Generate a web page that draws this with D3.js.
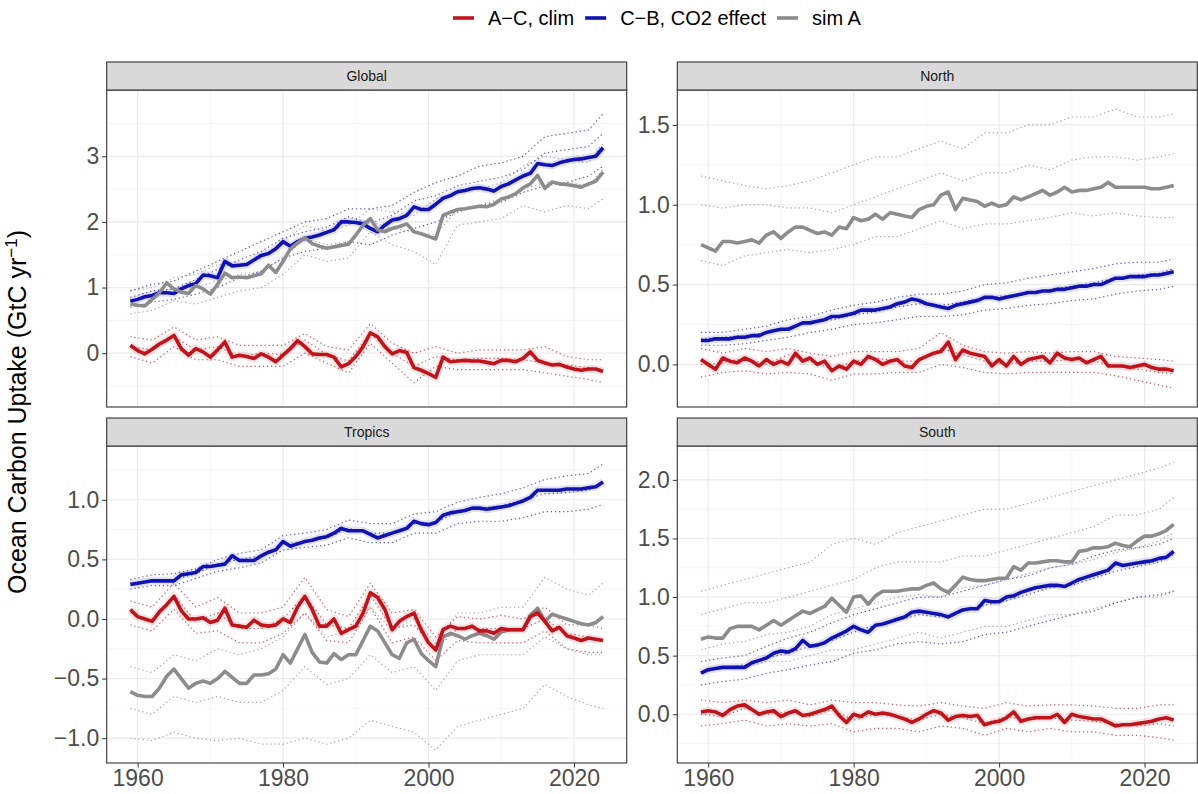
<!DOCTYPE html>
<html>
<head>
<meta charset="utf-8">
<script src="https://cdn.jsdelivr.net/npm/d3@7.9.0/dist/d3.min.js"></script>
<style>
  body { margin: 0; background: #fff; }
  svg { font-family: "Liberation Sans", Arial, sans-serif; }
</style>
</head>
<body>
<svg id="chart" width="1198" height="794"></svg>
<script>
// ---- data ----
const years = [
  1959, 1960, 1961, 1962, 1963, 1964, 1965, 1966, 1967, 1968,
  1969, 1970, 1971, 1972, 1973, 1974, 1975, 1976, 1977, 1978,
  1979, 1980, 1981, 1982, 1983, 1984, 1985, 1986, 1987, 1988,
  1989, 1990, 1991, 1992, 1993, 1994, 1995, 1996, 1997, 1998,
  1999, 2000, 2001, 2002, 2003, 2004, 2005, 2006, 2007, 2008,
  2009, 2010, 2011, 2012, 2013, 2014, 2015, 2016, 2017, 2018,
  2019, 2020, 2021, 2022, 2023, 2024
];
// ensemble members are read every third year
const memberYears = [1959, 1962, 1965, 1968, 1971, 1974, 1977, 1980, 1983, 1986, 1989, 1992,
  1995, 1998, 2001, 2004, 2007, 2010, 2013, 2016, 2019, 2022, 2024];

const seriesNames = ['A−C, clim', 'C−B, CO2 effect', 'sim A'];
const regionNames = ['Global', 'North', 'Tropics', 'South'];
const xTicks = [1960, 1980, 2000, 2020];
const globalTicks = [0, 1, 2, 3];
const northTicks = [0, 0.5, 1, 1.5];
const tropicsTicks = [-1, -0.5, 0, 0.5, 1];
const southTicks = [0, 0.5, 1, 1.5, 2];

// Global
const globalClim = [
  0.12, 0.04, -0.01, 0.06, 0.14, 0.20, 0.27, 0.07, -0.03, 0.07,
  0.02, -0.06, 0.05, 0.17, -0.06, -0.03, -0.05, -0.08, -0.01, -0.06,
  -0.13, -0.03, 0.07, 0.19, 0.10, -0.01, -0.02, -0.02, -0.06, -0.21,
  -0.16, -0.05, 0.10, 0.31, 0.25, 0.10, -0.01, 0.04, 0.01, -0.22,
  -0.26, -0.31, -0.37, -0.06, -0.13, -0.12, -0.11, -0.12, -0.12, -0.14,
  -0.16, -0.11, -0.11, -0.13, -0.08, 0.02, -0.11, -0.15, -0.18, -0.17,
  -0.21, -0.24, -0.26, -0.24, -0.24, -0.28
];
const globalCO2 = [
  0.79, 0.82, 0.86, 0.88, 0.92, 0.92, 0.91, 0.98, 1.03, 1.06,
  1.19, 1.18, 1.15, 1.40, 1.33, 1.34, 1.35, 1.42, 1.49, 1.52,
  1.59, 1.70, 1.63, 1.70, 1.75, 1.77, 1.80, 1.84, 1.88, 2.00,
  2.00, 1.99, 1.97, 1.90, 1.85, 1.95, 2.03, 2.05, 2.10, 2.23,
  2.19, 2.19, 2.27, 2.36, 2.40, 2.46, 2.48, 2.51, 2.52, 2.50,
  2.47, 2.54, 2.58, 2.64, 2.70, 2.74, 2.89, 2.87, 2.86, 2.90,
  2.93, 2.95, 2.96, 2.98, 3.00, 3.13
];
const globalSimA = [
  0.75, 0.73, 0.72, 0.82, 0.92, 1.07, 0.98, 0.93, 0.91, 1.03,
  0.98, 0.90, 1.05, 1.22, 1.15, 1.16, 1.15, 1.18, 1.21, 1.34,
  1.23, 1.40, 1.59, 1.68, 1.76, 1.67, 1.63, 1.60, 1.62, 1.64,
  1.66, 1.80, 1.95, 2.05, 1.88, 1.85, 1.90, 1.93, 1.97, 1.85,
  1.82, 1.78, 1.74, 2.10, 2.15, 2.19, 2.20, 2.22, 2.24, 2.23,
  2.27, 2.35, 2.38, 2.43, 2.52, 2.58, 2.71, 2.51, 2.61, 2.58,
  2.57, 2.55, 2.53, 2.58, 2.62, 2.76
];
const globalClimMembers = [
  [0.25, 0.2, 0.4, 0.2, 0.25, 0.12, 0.12, 0.12, 0.3, 0.1, 0.05, 0.45, 0.15, 0.0, 0.1, 0.0, 0.05, 0.05, 0.05, 0.1, -0.05, -0.1, -0.1],
  [0.1, 0.05, 0.25, 0.05, 0.1, -0.05, 0.0, -0.02, 0.2, -0.02, -0.12, 0.3, 0.0, -0.2, -0.05, -0.1, -0.08, -0.08, -0.1, -0.15, -0.18, -0.22, -0.25],
  [-0.05, -0.15, 0.1, -0.1, -0.1, -0.2, -0.2, -0.2, 0.0, -0.15, -0.3, 0.15, -0.15, -0.45, -0.2, -0.25, -0.25, -0.25, -0.25, -0.3, -0.35, -0.4, -0.45]
];
const globalCO2Members = [
  [0.95, 1.05, 1.1, 1.25, 1.4, 1.55, 1.7, 1.85, 2.0, 2.05, 2.2, 2.2, 2.25, 2.45, 2.6, 2.7, 2.85, 2.9, 3.0, 3.3, 3.35, 3.4, 3.65],
  [0.85, 0.95, 0.98, 1.12, 1.28, 1.42, 1.55, 1.75, 1.85, 1.92, 2.08, 1.98, 2.1, 2.32, 2.4, 2.55, 2.62, 2.68, 2.8, 3.05, 3.1, 3.15, 3.35],
  [0.7, 0.78, 0.82, 0.9, 1.0, 1.15, 1.25, 1.45, 1.55, 1.6, 1.7, 1.65, 1.8, 1.9, 2.0, 2.15, 2.25, 2.3, 2.45, 2.55, 2.6, 2.7, 2.85]
];
const globalSimAMembers = [
  [0.95, 1.0, 1.15, 1.2, 1.35, 1.35, 1.45, 1.7, 1.95, 1.85, 1.95, 2.2, 2.15, 2.1, 2.35, 2.45, 2.5, 2.6, 2.85, 3.0, 2.95, 2.9, 3.2],
  [0.8, 0.85, 1.0, 1.0, 1.1, 1.2, 1.25, 1.45, 1.75, 1.65, 1.7, 2.0, 1.9, 1.85, 1.8, 2.2, 2.25, 2.35, 2.5, 2.6, 2.6, 2.55, 2.8],
  [0.6, 0.65, 0.8, 0.75, 0.85, 0.95, 1.0, 1.2, 1.5, 1.4, 1.45, 1.85, 1.65, 1.55, 1.35, 1.95, 2.0, 2.05, 2.25, 2.15, 2.25, 2.2, 2.35]
];

// North
const northClim = [
  0.03, 0.00, -0.03, 0.04, 0.02, 0.01, 0.04, 0.02, -0.01, 0.03,
  0.00, 0.02, 0.00, 0.07, 0.02, 0.04, 0.00, 0.02, -0.04, -0.01,
  -0.03, 0.02, 0.00, 0.05, 0.03, 0.00, 0.02, 0.03, -0.01, -0.02,
  0.03, 0.05, 0.07, 0.08, 0.14, 0.03, 0.09, 0.07, 0.06, 0.05,
  -0.01, 0.03, -0.01, 0.05, 0.00, 0.03, 0.04, 0.05, 0.01, 0.07,
  0.04, 0.03, 0.04, 0.01, 0.03, 0.05, -0.01, -0.01, -0.01, -0.02,
  -0.01, 0.00, -0.02, -0.03, -0.03, -0.04
];
const northCO2 = [
  0.15, 0.15, 0.16, 0.16, 0.16, 0.17, 0.17, 0.18, 0.18, 0.20,
  0.21, 0.22, 0.22, 0.24, 0.26, 0.26, 0.27, 0.28, 0.30, 0.30,
  0.31, 0.32, 0.34, 0.34, 0.34, 0.35, 0.36, 0.38, 0.39, 0.41,
  0.40, 0.38, 0.37, 0.36, 0.35, 0.37, 0.38, 0.39, 0.40, 0.42,
  0.42, 0.41, 0.42, 0.43, 0.44, 0.45, 0.45, 0.46, 0.46, 0.47,
  0.47, 0.48, 0.49, 0.49, 0.50, 0.50, 0.52, 0.54, 0.54, 0.55,
  0.55, 0.55, 0.56, 0.56, 0.57, 0.58
];
const northSimA = [
  0.75, 0.73, 0.71, 0.77, 0.77, 0.76, 0.77, 0.78, 0.76, 0.81,
  0.83, 0.79, 0.83, 0.86, 0.86, 0.84, 0.82, 0.83, 0.81, 0.86,
  0.85, 0.92, 0.90, 0.91, 0.94, 0.91, 0.95, 0.94, 0.93, 0.92,
  0.97, 0.99, 1.00, 1.06, 1.08, 0.97, 1.04, 1.03, 1.02, 0.99,
  1.01, 0.99, 1.00, 1.05, 1.03, 1.05, 1.07, 1.09, 1.06, 1.08,
  1.11, 1.08, 1.09, 1.09, 1.10, 1.11, 1.14, 1.11, 1.11, 1.11,
  1.11, 1.11, 1.10, 1.10, 1.11, 1.12
];
const northClimMembers = [
  [0.1, 0.07, 0.1, 0.08, 0.1, 0.07, 0.05, 0.08, 0.08, 0.08, 0.1, 0.2, 0.12, 0.08, 0.07, 0.08, 0.07, 0.08, 0.08, 0.05, 0.04, 0.03, 0.02],
  [0.0, 0.01, 0.04, 0.0, 0.06, 0.02, -0.03, 0.02, 0.04, 0.02, 0.02, 0.1, 0.06, 0.02, 0.0, 0.02, 0.02, 0.03, 0.02, -0.01, -0.03, -0.05, -0.06],
  [-0.08, -0.05, -0.04, -0.06, -0.05, -0.06, -0.1, -0.06, -0.06, -0.05, -0.05, 0.0, -0.02, -0.05, -0.06, -0.05, -0.05, -0.05, -0.05, -0.07, -0.1, -0.13, -0.15]
];
const northCO2Members = [
  [0.2, 0.2, 0.22, 0.24, 0.28, 0.3, 0.34, 0.37, 0.39, 0.42, 0.44, 0.44, 0.46, 0.5, 0.51, 0.54, 0.56, 0.58, 0.6, 0.63, 0.64, 0.64, 0.66],
  [0.16, 0.17, 0.18, 0.2, 0.23, 0.26, 0.28, 0.31, 0.33, 0.36, 0.38, 0.37, 0.39, 0.42, 0.43, 0.45, 0.47, 0.49, 0.51, 0.54, 0.56, 0.57, 0.6],
  [0.12, 0.12, 0.13, 0.15, 0.17, 0.2, 0.22, 0.25, 0.26, 0.28, 0.3, 0.3, 0.31, 0.34, 0.35, 0.37, 0.38, 0.4, 0.41, 0.44, 0.46, 0.47, 0.49]
];
const northSimAMembers = [
  [1.18, 1.15, 1.12, 1.1, 1.12, 1.15, 1.2, 1.25, 1.3, 1.3, 1.35, 1.4, 1.35, 1.45, 1.45, 1.5, 1.5, 1.55, 1.55, 1.6, 1.55, 1.55, 1.57],
  [1.0, 0.98, 1.0, 1.0, 0.98, 0.98, 0.95, 1.0, 1.05, 1.1, 1.15, 1.2, 1.15, 1.2, 1.2, 1.25, 1.22, 1.28, 1.3, 1.3, 1.28, 1.3, 1.32],
  [0.65, 0.62, 0.68, 0.7, 0.72, 0.7, 0.72, 0.75, 0.8, 0.8, 0.85, 0.9, 0.85, 0.88, 0.88, 0.9, 0.92, 0.95, 0.93, 0.95, 0.93, 0.92, 0.92]
];

// Tropics
const tropicsClim = [
  0.08, 0.02, 0.00, -0.02, 0.06, 0.12, 0.19, 0.07, 0.00, 0.00,
  0.01, -0.03, -0.01, 0.09, -0.05, -0.06, -0.07, -0.01, -0.05, -0.06,
  -0.05, 0.00, -0.03, 0.10, 0.19, 0.08, -0.06, -0.06, 0.00, -0.12,
  -0.09, -0.06, 0.05, 0.22, 0.18, 0.08, -0.09, -0.02, 0.02, 0.05,
  -0.09, -0.20, -0.26, -0.09, -0.06, -0.08, -0.08, -0.06, -0.10, -0.10,
  -0.12, -0.08, -0.09, -0.09, -0.09, 0.02, 0.05, -0.02, -0.10, -0.07,
  -0.14, -0.16, -0.18, -0.16, -0.17, -0.18
];
const tropicsCO2 = [
  0.29, 0.30, 0.31, 0.32, 0.32, 0.32, 0.32, 0.37, 0.38, 0.39,
  0.44, 0.44, 0.45, 0.46, 0.53, 0.49, 0.49, 0.49, 0.53, 0.56,
  0.58, 0.65, 0.61, 0.63, 0.65, 0.66, 0.68, 0.69, 0.72, 0.76,
  0.74, 0.74, 0.74, 0.71, 0.68, 0.70, 0.72, 0.74, 0.76, 0.82,
  0.80, 0.79, 0.81, 0.87, 0.89, 0.90, 0.91, 0.93, 0.93, 0.92,
  0.93, 0.94, 0.95, 0.97, 0.99, 1.02, 1.08, 1.08, 1.08, 1.08,
  1.09, 1.09, 1.09, 1.10, 1.11, 1.15
];
const tropicsSimA = [
  -0.61, -0.64, -0.65, -0.65, -0.58, -0.48, -0.42, -0.50, -0.58, -0.54,
  -0.52, -0.54, -0.50, -0.44, -0.49, -0.54, -0.54, -0.47, -0.47, -0.46,
  -0.42, -0.30, -0.37, -0.25, -0.13, -0.28, -0.36, -0.37, -0.29, -0.34,
  -0.30, -0.30, -0.18, -0.06, -0.10, -0.20, -0.30, -0.33, -0.20, -0.17,
  -0.29, -0.35, -0.40, -0.15, -0.12, -0.14, -0.17, -0.14, -0.12, -0.14,
  -0.17, -0.11, -0.09, -0.09, -0.09, 0.03, 0.09, -0.02, 0.04, 0.02,
  0.00, -0.02, -0.04, -0.05, -0.03, 0.02
];
const tropicsClimMembers = [
  [0.15, 0.1, 0.3, 0.1, 0.18, 0.05, 0.05, 0.1, 0.35, 0.08, 0.02, 0.3, 0.05, 0.08, -0.15, 0.02, 0.0, 0.03, 0.0, 0.1, -0.05, -0.05, -0.08],
  [0.05, -0.02, 0.2, -0.02, 0.05, -0.08, -0.08, 0.0, 0.2, -0.05, -0.08, 0.2, -0.08, -0.05, -0.25, -0.08, -0.08, -0.08, -0.08, 0.0, -0.12, -0.15, -0.18],
  [-0.05, -0.1, 0.08, -0.12, -0.1, -0.2, -0.2, -0.12, 0.05, -0.18, -0.2, 0.1, -0.2, -0.15, -0.35, -0.18, -0.2, -0.2, -0.2, -0.1, -0.25, -0.28, -0.28]
];
const tropicsCO2Members = [
  [0.33, 0.37, 0.38, 0.42, 0.5, 0.55, 0.58, 0.7, 0.72, 0.75, 0.83, 0.8, 0.8, 0.88, 0.9, 0.98, 1.02, 1.05, 1.1, 1.17, 1.2, 1.22, 1.3],
  [0.3, 0.33, 0.33, 0.38, 0.46, 0.5, 0.53, 0.63, 0.65, 0.68, 0.76, 0.72, 0.72, 0.8, 0.81, 0.9, 0.93, 0.95, 1.0, 1.05, 1.06, 1.08, 1.14],
  [0.25, 0.28, 0.28, 0.34, 0.4, 0.43, 0.47, 0.58, 0.6, 0.62, 0.68, 0.64, 0.64, 0.72, 0.72, 0.8, 0.82, 0.82, 0.85, 0.9, 0.9, 0.92, 0.96]
];
const tropicsSimAMembers = [
  [-0.4, -0.45, -0.3, -0.35, -0.25, -0.3, -0.25, -0.15, 0.05, -0.15, -0.1, 0.1, -0.1, 0.0, -0.2, 0.05, 0.05, 0.1, 0.1, 0.35, 0.25, 0.2, 0.3],
  [-0.75, -0.8, -0.65, -0.7, -0.65, -0.7, -0.7, -0.6, -0.4, -0.55, -0.5, -0.3, -0.45, -0.4, -0.6, -0.35, -0.3, -0.3, -0.3, -0.15, -0.25, -0.3, -0.3],
  [-1.0, -1.02, -0.95, -1.0, -1.02, -1.0, -1.05, -1.05, -1.0, -1.05, -1.0, -0.85, -0.9, -0.95, -1.1, -0.9, -0.85, -0.8, -0.75, -0.55, -0.65, -0.72, -0.75]
];

// South
const southClim = [
  0.02, 0.03, 0.02, -0.01, 0.04, 0.07, 0.08, 0.04, 0.00, 0.02,
  0.03, -0.02, 0.01, 0.03, -0.01, 0.00, 0.02, 0.04, 0.07, -0.01,
  -0.07, 0.00, -0.02, 0.02, 0.00, 0.01, 0.00, -0.02, -0.04, -0.07,
  -0.04, 0.00, 0.03, 0.01, -0.05, -0.02, -0.01, -0.02, -0.01, -0.09,
  -0.07, -0.06, -0.03, 0.02, -0.06, -0.04, -0.03, -0.03, -0.03, 0.00,
  -0.07, 0.00, -0.02, -0.03, -0.04, -0.04, -0.07, -0.10, -0.09, -0.09,
  -0.08, -0.07, -0.06, -0.04, -0.03, -0.05
];
const southCO2 = [
  0.35, 0.38, 0.39, 0.40, 0.40, 0.40, 0.40, 0.44, 0.46, 0.48,
  0.52, 0.54, 0.53, 0.56, 0.63, 0.58, 0.59, 0.61, 0.65, 0.68,
  0.71, 0.75, 0.72, 0.70, 0.76, 0.77, 0.79, 0.81, 0.83, 0.87,
  0.88, 0.87, 0.86, 0.85, 0.83, 0.86, 0.89, 0.90, 0.90, 0.97,
  0.96, 0.96, 1.00, 1.01, 1.04, 1.06, 1.08, 1.09, 1.10, 1.10,
  1.09, 1.12, 1.15, 1.17, 1.19, 1.21, 1.23, 1.29, 1.27, 1.28,
  1.29, 1.30, 1.31, 1.33, 1.34, 1.39
];
const southSimA = [
  0.64, 0.66, 0.65, 0.65, 0.73, 0.75, 0.75, 0.75, 0.72, 0.76,
  0.80, 0.76, 0.80, 0.84, 0.88, 0.86, 0.89, 0.92, 0.99, 0.93,
  0.87, 1.00, 1.01, 0.94, 1.01, 1.05, 1.05, 1.05, 1.06, 1.07,
  1.07, 1.10, 1.12, 1.07, 1.04, 1.10, 1.17, 1.15, 1.14, 1.14,
  1.15, 1.16, 1.16, 1.26, 1.23, 1.29, 1.29, 1.30, 1.31, 1.31,
  1.30, 1.30, 1.39, 1.40, 1.42, 1.42, 1.43, 1.46, 1.44, 1.43,
  1.48, 1.52, 1.52, 1.54, 1.57, 1.62
];
const southClimMembers = [
  [0.12, 0.1, 0.12, 0.1, 0.12, 0.08, 0.12, 0.1, 0.1, 0.08, 0.07, 0.1, 0.07, 0.05, 0.1, 0.07, 0.08, 0.08, 0.07, 0.05, 0.05, 0.08, 0.08],
  [0.0, -0.02, 0.05, 0.0, 0.02, -0.02, 0.04, -0.05, 0.0, -0.02, -0.05, 0.0, -0.03, -0.08, -0.02, -0.05, -0.03, -0.05, -0.06, -0.08, -0.1, -0.08, -0.1],
  [-0.1, -0.08, -0.05, -0.1, -0.08, -0.1, -0.08, -0.15, -0.12, -0.12, -0.15, -0.1, -0.12, -0.18, -0.12, -0.15, -0.12, -0.15, -0.15, -0.18, -0.18, -0.2, -0.22]
];
const southCO2Members = [
  [0.45, 0.48, 0.5, 0.58, 0.65, 0.7, 0.78, 0.85, 0.9, 0.95, 1.0, 1.0, 1.05, 1.1, 1.15, 1.18, 1.25, 1.28, 1.35, 1.4, 1.42, 1.45, 1.5],
  [0.35, 0.4, 0.42, 0.48, 0.52, 0.58, 0.63, 0.7, 0.76, 0.8, 0.85, 0.83, 0.88, 0.93, 0.97, 1.02, 1.08, 1.1, 1.16, 1.22, 1.26, 1.3, 1.36],
  [0.25, 0.28, 0.3, 0.35, 0.38, 0.42, 0.45, 0.52, 0.55, 0.6, 0.62, 0.6, 0.62, 0.68, 0.7, 0.75, 0.8, 0.85, 0.88, 0.95, 1.0, 1.02, 1.05]
];
const southSimAMembers = [
  [1.05, 1.1, 1.15, 1.2, 1.25, 1.3, 1.45, 1.5, 1.45, 1.55, 1.6, 1.65, 1.7, 1.75, 1.75, 1.8, 1.85, 1.9, 1.95, 2.0, 2.05, 2.1, 2.15],
  [0.85, 0.9, 0.95, 0.95, 1.0, 1.05, 1.1, 1.15, 1.25, 1.3, 1.3, 1.3, 1.35, 1.35, 1.4, 1.45, 1.5, 1.55, 1.6, 1.7, 1.7, 1.75, 1.85],
  [0.55, 0.6, 0.62, 0.68, 0.7, 0.75, 0.85, 0.9, 0.95, 1.0, 1.02, 1.0, 1.08, 1.1, 1.15, 1.2, 1.25, 1.28, 1.32, 1.38, 1.42, 1.48, 1.55],
  [0.35, 0.4, 0.4, 0.45, 0.45, 0.5, 0.55, 0.55, 0.6, 0.65, 0.7, 0.65, 0.7, 0.75, 0.75, 0.8, 0.85, 0.85, 0.9, 0.95, 1.0, 1.0, 1.05]
];

// ---- layout / style ----
const colors = ['#c0141c', '#1212b0', '#8c8c8c'];
const memberColors = ['#d23a42', '#3c3cc8', '#9a9a9a'];

const panelW = 520, panelH = 317, stripH = 28;
const colX = [106.7, 677.3];
const stripY = [62, 418];
const xDomain = [1955.75, 2027.25];

const panels = [
  { name: regionNames[0], col: 0, row: 0, ticks: globalTicks, domain: [-0.82, 4.01], fmt: d3.format('d'),
    series: [globalClim, globalCO2, globalSimA], members: [globalClimMembers, globalCO2Members, globalSimAMembers] },
  { name: regionNames[1], col: 1, row: 0, ticks: northTicks, domain: [-0.267, 1.719], fmt: d3.format('.1f'),
    series: [northClim, northCO2, northSimA], members: [northClimMembers, northCO2Members, northSimAMembers] },
  { name: regionNames[2], col: 0, row: 1, ticks: tropicsTicks, domain: [-1.208, 1.451], fmt: d3.format('.1f'),
    series: [tropicsClim, tropicsCO2, tropicsSimA], members: [tropicsClimMembers, tropicsCO2Members, tropicsSimAMembers] },
  { name: regionNames[3], col: 1, row: 1, ticks: southTicks, domain: [-0.416, 2.289], fmt: d3.format('.1f'),
    series: [southClim, southCO2, southSimA], members: [southClimMembers, southCO2Members, southSimAMembers] }
];

const svg = d3.select('#chart');

panels.forEach((p) => {
  const left = colX[p.col];
  const top = stripY[p.row] + stripH;
  const x = d3.scaleLinear().domain(xDomain).range([left, left + panelW]);
  const y = d3.scaleLinear().domain(p.domain).range([top + panelH, top]);
  const g = svg.append('g').attr('class', 'panel');

  g.append('rect').attr('x', left).attr('y', top).attr('width', panelW).attr('height', panelH).attr('fill', '#fff');

  // minor grid halfway between majors
  const step = p.ticks[1] - p.ticks[0];
  const minorY = [];
  for (let v = p.ticks[0] - step / 2; v > p.domain[0]; v -= step) minorY.push(v);
  for (let v = p.ticks[0] + step / 2; v < p.domain[1]; v += step) minorY.push(v);
  const minorX = [1970, 1990, 2010];

  g.selectAll('.minorY').data(minorY).join('line')
    .attr('x1', left).attr('x2', left + panelW)
    .attr('y1', (d) => y(d)).attr('y2', (d) => y(d))
    .attr('stroke', '#f2f2f2').attr('stroke-width', 0.7);
  g.selectAll('.minorX').data(minorX).join('line')
    .attr('x1', (d) => x(d)).attr('x2', (d) => x(d))
    .attr('y1', top).attr('y2', top + panelH)
    .attr('stroke', '#f2f2f2').attr('stroke-width', 0.7);
  g.selectAll('.majorY').data(p.ticks).join('line')
    .attr('x1', left).attr('x2', left + panelW)
    .attr('y1', (d) => y(d)).attr('y2', (d) => y(d))
    .attr('stroke', '#ebebeb').attr('stroke-width', 1.2);
  g.selectAll('.majorX').data(xTicks).join('line')
    .attr('x1', (d) => x(d)).attr('x2', (d) => x(d))
    .attr('y1', top).attr('y2', top + panelH)
    .attr('stroke', '#ebebeb').attr('stroke-width', 1.2);

  // dotted ensemble members
  const memberLine = d3.line()
    .defined((d, i) => d != null && i < memberYears.length)
    .x((d, i) => x(memberYears[i]))
    .y((d) => y(d));
  [2, 1, 0].forEach((s) => {
    p.members[s].forEach((m) => {
      g.append('path')
        .attr('d', memberLine(m))
        .attr('fill', 'none')
        .attr('stroke', memberColors[s])
        .attr('stroke-width', 1.2)
        .attr('stroke-dasharray', '1.3,2.8')
        .attr('opacity', 0.85);
    });
  });

  // mean lines
  const meanLine = d3.line()
    .defined((d) => d != null)
    .x((d, i) => x(years[i]))
    .y((d) => y(d));
  [1, 2, 0].forEach((s) => {
    if (s !== 2) {
      g.append('path')
        .attr('d', meanLine(p.series[s]))
        .attr('fill', 'none')
        .attr('stroke', colors[s])
        .attr('stroke-width', 8)
        .attr('stroke-linejoin', 'round')
        .attr('opacity', 0.12);
    }
    g.append('path')
      .attr('d', meanLine(p.series[s]))
      .attr('fill', 'none')
      .attr('stroke', colors[s])
      .attr('stroke-width', 3.6)
      .attr('stroke-linejoin', 'round');
  });

  g.append('rect').attr('x', left).attr('y', top).attr('width', panelW).attr('height', panelH)
    .attr('fill', 'none').attr('stroke', '#333').attr('stroke-width', 1.1);

  // strip
  g.append('rect').attr('x', left).attr('y', stripY[p.row]).attr('width', panelW).attr('height', stripH)
    .attr('fill', '#d9d9d9').attr('stroke', '#333').attr('stroke-width', 1.1);
  g.append('text')
    .attr('x', left + panelW / 2).attr('y', stripY[p.row] + stripH / 2 + 5)
    .attr('text-anchor', 'middle').attr('font-size', 14).attr('fill', '#1a1a1a')
    .text(p.name);

  // y axis
  const yAxis = g.append('g')
    .attr('transform', `translate(${left},0)`)
    .call(d3.axisLeft(y).tickValues(p.ticks).tickFormat(p.fmt).tickSize(4.5).tickPadding(3));
  yAxis.select('.domain').remove();
  yAxis.selectAll('line').attr('stroke', '#333');
  yAxis.selectAll('text').attr('font-size', 23).attr('fill', '#4d4d4d').attr('font-family', null);

  // x axis only on the bottom row
  if (p.row === 1) {
    const xAxis = g.append('g')
      .attr('transform', `translate(0,${top + panelH})`)
      .call(d3.axisBottom(x).tickValues(xTicks).tickFormat(d3.format('d')).tickSize(4.5).tickPadding(2));
    xAxis.select('.domain').remove();
    xAxis.selectAll('line').attr('stroke', '#333');
    xAxis.selectAll('text').attr('font-size', 23).attr('fill', '#4d4d4d').attr('font-family', null);
  }
});

// y axis title
const yTitle = svg.append('text')
  .attr('transform', 'translate(26,412) rotate(-90)')
  .attr('text-anchor', 'middle')
  .attr('font-size', 25)
  .attr('fill', '#000');
yTitle.append('tspan').text('Ocean Carbon Uptake (GtC yr');
yTitle.append('tspan').attr('font-size', 17).attr('dy', -9).text('−1');
yTitle.append('tspan').attr('dy', 9).text(')');

// legend
const legend = svg.append('g').attr('class', 'legend');
let lx = 453;
seriesNames.forEach((name, i) => {
  legend.append('line')
    .attr('x1', lx).attr('x2', lx + 21)
    .attr('y1', 18).attr('y2', 18)
    .attr('stroke', colors[i]).attr('stroke-width', 3.6);
  const t = legend.append('text')
    .attr('x', lx + 35).attr('y', 25)
    .attr('font-size', 20).attr('fill', '#000')
    .text(name);
  lx += 35 + t.node().getComputedTextLength() + 11;
});
</script>
</body>
</html>
